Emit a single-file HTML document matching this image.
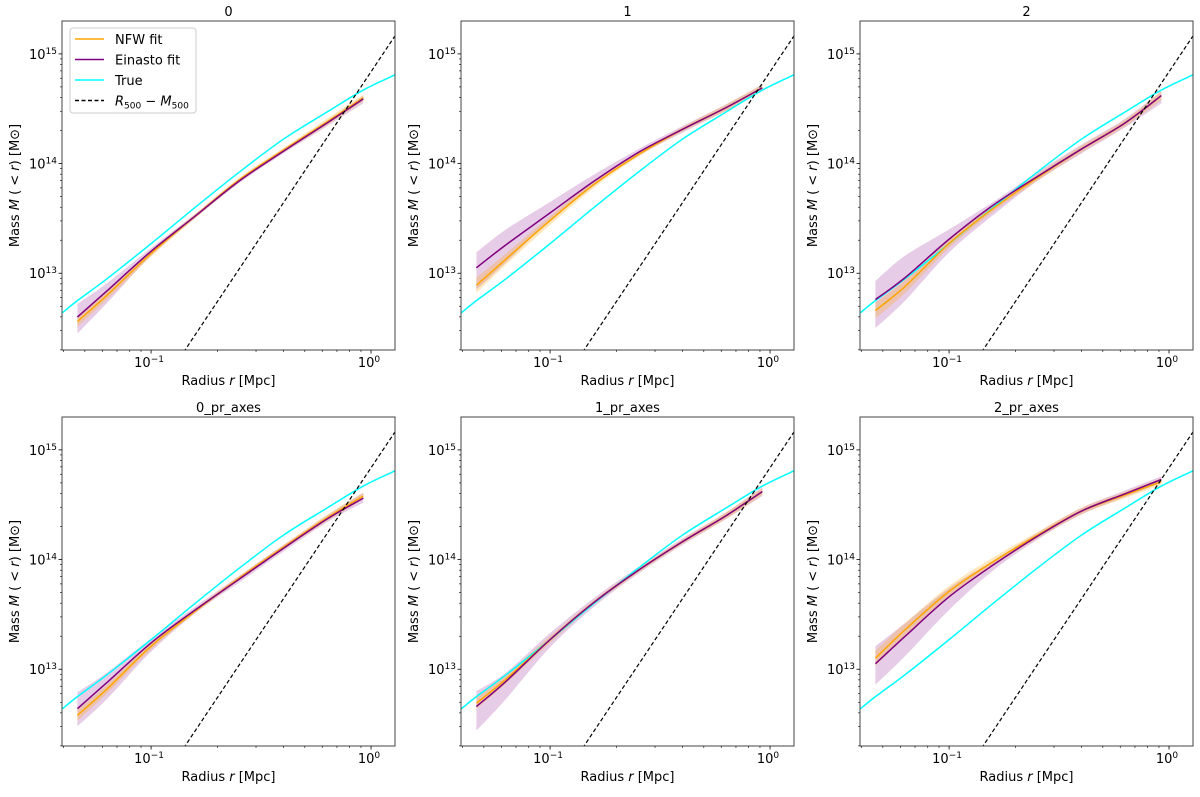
<!DOCTYPE html>
<html><head><meta charset="utf-8"><style>
body{margin:0;background:#fff;}
svg text{font-family:"DejaVu Sans","Liberation Sans",sans-serif;fill:#000;}
</style></head><body>
<svg id="fig" width="1200" height="792" viewBox="0 0 1200 792" xmlns="http://www.w3.org/2000/svg"></svg>
<script>
// ---- data ----
const panelTitles = ["0","1","2","0_pr_axes","1_pr_axes","2_pr_axes"];
const trueLogR = [-1.403,-1.335,-1.2,-1.0,-0.8,-0.6,-0.4,-0.2,-0.035,0.11];
const trueLogM = [12.64,12.75,12.95,13.27,13.60,13.92,14.22,14.47,14.67,14.81];
const fitLogR = [-1.335,-1.2,-1.0,-0.8,-0.6,-0.4,-0.2,-0.035];
const einLogM = [
 [12.60,12.84,13.20,13.52,13.84,14.11,14.37,14.59],
 [13.05,13.26,13.55,13.84,14.10,14.31,14.51,14.69],
 [12.76,12.96,13.31,13.62,13.88,14.13,14.37,14.62],
 [12.64,12.88,13.24,13.54,13.82,14.10,14.37,14.56],
 [12.66,12.89,13.27,13.61,13.90,14.16,14.40,14.62],
 [13.05,13.30,13.66,13.95,14.21,14.44,14.60,14.73]];
const einLo = [
 [12.45,12.73,13.16,13.50,13.82,14.09,14.34,14.55],
 [12.85,13.10,13.48,13.80,14.07,14.28,14.48,14.66],
 [12.50,12.75,13.19,13.53,13.84,14.09,14.33,14.55],
 [12.48,12.73,13.16,13.51,13.79,14.07,14.34,14.52],
 [12.44,12.73,13.20,13.57,13.87,14.13,14.37,14.58],
 [12.86,13.12,13.54,13.90,14.18,14.41,14.57,14.70]];
const einHi = [
 [12.72,12.91,13.23,13.54,13.86,14.13,14.39,14.62],
 [13.19,13.40,13.65,13.90,14.13,14.34,14.54,14.72],
 [12.93,13.16,13.40,13.65,13.92,14.17,14.41,14.66],
 [12.79,12.97,13.28,13.57,13.85,14.13,14.40,14.61],
 [12.80,12.97,13.33,13.65,13.93,14.19,14.43,14.66],
 [13.21,13.42,13.74,13.99,14.24,14.47,14.63,14.76]];
const nfwLogM = [
 [12.56,12.80,13.18,13.52,13.85,14.12,14.38,14.60],
 [12.89,13.13,13.48,13.81,14.08,14.31,14.51,14.69],
 [12.66,12.88,13.27,13.59,13.87,14.13,14.37,14.62],
 [12.58,12.82,13.21,13.53,13.83,14.11,14.38,14.58],
 [12.69,12.91,13.27,13.61,13.90,14.16,14.40,14.62],
 [13.10,13.36,13.71,13.98,14.22,14.44,14.59,14.71]];
const nfwErr = [
 [0.05,0.04,0.03,0.02,0.02,0.02,0.03,0.03],
 [0.07,0.05,0.04,0.03,0.02,0.02,0.03,0.03],
 [0.07,0.06,0.04,0.03,0.03,0.03,0.03,0.04],
 [0.05,0.04,0.03,0.02,0.02,0.02,0.03,0.03],
 [0.05,0.04,0.03,0.02,0.02,0.02,0.03,0.03],
 [0.07,0.06,0.05,0.04,0.03,0.03,0.03,0.03]];
const dashLogR = [-1.0, 0.2];
const dashLogM = [11.837, 15.437];
const xTickExp = [-1, 0];
const yTickExp = [13, 14, 15];
const legendLabels = ["NFW fit","Einasto fit","True","R500"];

// ---- layout ----
const colLeft=[62,461,860], rowTop=[21,417], W=333, H=329;
const XMIN=-1.405, XMAX=0.109, YMIN=12.30, YMAX=15.30;
const NS="http://www.w3.org/2000/svg";
const svg=document.getElementById('fig');
function mk(tag,attrs,parent){const e=document.createElementNS(NS,tag);for(const k in attrs)e.setAttribute(k,attrs[k]);(parent||svg).appendChild(e);return e;}
function smooth(pts,move){
  let d=(move?'M':'L')+pts[0][0]+','+pts[0][1];
  for(let i=0;i<pts.length-1;i++){
    const p0=pts[Math.max(0,i-1)],p1=pts[i],p2=pts[i+1],p3=pts[Math.min(pts.length-1,i+2)];
    const c1=[p1[0]+(p2[0]-p0[0])/6,p1[1]+(p2[1]-p0[1])/6];
    const c2=[p2[0]-(p3[0]-p1[0])/6,p2[1]-(p3[1]-p1[1])/6];
    d+='C'+c1[0]+','+c1[1]+' '+c2[0]+','+c2[1]+' '+p2[0]+','+p2[1];
  }
  return d;
}

panelTitles.forEach((title,p)=>{
  const x0=colLeft[p%3], y0=rowTop[Math.floor(p/3)];
  const sx=v=>x0+(v-XMIN)/(XMAX-XMIN)*W;
  const sy=v=>y0+(YMAX-v)/(YMAX-YMIN)*H;
  const g=mk('g',{});
  
  
  const cid='clip'+p;
  const cp=mk('clipPath',{id:cid},g);mk('rect',{x:x0,y:y0,width:W,height:H},cp);
  const pg=mk('g',{'clip-path':'url(#'+cid+')'},g);
  const band=(hi,lo,col,op,name)=>{
    const up=fitLogR.map((r,i)=>[sx(r),sy(hi[i])]);
    const dn=fitLogR.map((r,i)=>[sx(r),sy(lo[i])]).reverse();
    const el=mk('path',{d:smooth(up,true)+smooth(dn,false)+'Z',fill:col,'fill-opacity':op},pg);
    
    
  };
  band(einHi[p],einLo[p],'#800080',0.2,'einasto-band');
  band(nfwLogM[p].map((v,i)=>v+nfwErr[p][i]),nfwLogM[p].map((v,i)=>v-nfwErr[p][i]),'#ffa500',0.25,'nfw-band');
  const line=(xs,ys,col,w,name,dash)=>{
    const pts=xs.map((r,i)=>[sx(r),sy(ys[i])]);
    const a={d:dash?('M'+pts.map(q=>q.join(',')).join('L')):smooth(pts,true),fill:'none',stroke:col,'stroke-width':w,'stroke-linejoin':'round'};
    if(dash)a['stroke-dasharray']=dash;
    const el=mk('path',a,pg);
    
    
  };
  line(trueLogR,trueLogM,'#00ffff',1.5,'true-line');
  line(fitLogR,nfwLogM[p],'#ffa500',1.5,'nfw-line');
  line(fitLogR,einLogM[p],'#800080',1.5,'einasto-line');
  line(dashLogR,dashLogM,'#000',1.2,'r500-m500-line','4,2.5');
  const fr=mk('rect',{x:x0,y:y0,width:W,height:H,fill:'none',stroke:'#444','stroke-width':1},g);
  
  
  for(let e=-2;e<=0;e++)for(let m=1;m<=9;m++){
    const v=e+Math.log10(m); if(v<XMIN||v>XMAX)continue;
    const X=sx(v); mk('line',{x1:X,x2:X,y1:y0+H,y2:y0+H+(m===1?3.5:2),stroke:'#000','stroke-width':m===1?0.8:0.6},g);
  }
  xTickExp.forEach(e=>{
    const t=mk('text',{x:sx(e)-2,y:y0+H+17,'text-anchor':'middle','font-size':13},g);
    
    
    t.innerHTML='10<tspan dy="-5" font-size="9">'+(e<0?'\u2212'+(-e):e)+'</tspan>';
  });
  for(let e=12;e<=15;e++)for(let m=1;m<=9;m++){
    const v=e+Math.log10(m); if(v<YMIN||v>YMAX)continue;
    const Y=sy(v); mk('line',{x1:x0,x2:x0-(m===1?3.5:2),y1:Y,y2:Y,stroke:'#000','stroke-width':m===1?0.8:0.6},g);
  }
  yTickExp.forEach(e=>{
    const t=mk('text',{x:x0-5,y:sy(e)+5,'text-anchor':'end','font-size':13},g);
    
    
    t.innerHTML='10<tspan dy="-5" font-size="9">'+e+'</tspan>';
  });
  const tt=mk('text',{x:x0+W/2,y:y0-5,'text-anchor':'middle','font-size':13},g);
  
  
  tt.textContent=title;
  const xl=mk('text',{x:x0+W/2,y:y0+H+35,'text-anchor':'middle','font-size':13},g);
  
  
  xl.innerHTML='Radius <tspan font-style="italic">r</tspan> [Mpc]';
  const yl=mk('text',{x:0,y:0,'text-anchor':'middle','font-size':13,transform:'translate('+(x0-43)+','+(y0+H/2)+') rotate(-90)'},g);
  
  
  yl.innerHTML='Mass <tspan font-style="italic">M</tspan> ( &lt; <tspan font-style="italic">r</tspan>) [M\u2299]';
  if(p===0){
    const lg=mk('g',{},g);
    
    
    mk('rect',{x:70,y:28,width:126,height:85,rx:3,fill:'#fff','fill-opacity':0.8,stroke:'#ccc','stroke-width':1},lg);
    const cols=['#ffa500','#800080','#00ffff','#000'];
    legendLabels.forEach((lab,i)=>{
      const Y=39+i*20.5;
      const ln=mk('line',{x1:75,x2:104,y1:Y,y2:Y,stroke:cols[i],'stroke-width':1.5},lg);
      if(i===3)ln.setAttribute('stroke-dasharray','4,2.5');
      const t=mk('text',{x:115,y:Y+5,'font-size':13},lg);
      
      
      if(i===3)t.innerHTML='<tspan font-style="italic">R</tspan><tspan dy="3" font-size="9">500</tspan><tspan dy="-3"> \u2212 </tspan><tspan font-style="italic">M</tspan><tspan dy="3" font-size="9">500</tspan>';
      else t.textContent=lab;
    });
  }
});
</script>
</body></html>
